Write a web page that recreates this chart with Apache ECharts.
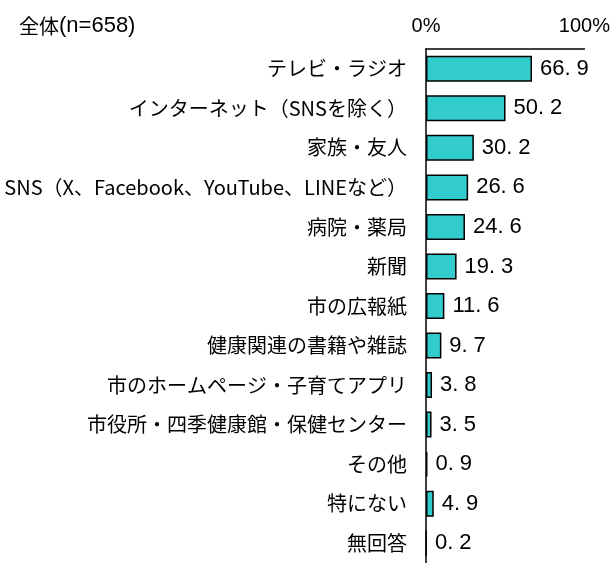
<!DOCTYPE html>
<html>
<head>
<meta charset="utf-8">
<script src="https://cdn.jsdelivr.net/npm/echarts@6/dist/echarts.min.js"></script>
<style>
  html, body { margin: 0; padding: 0; background: #fff; }
  #chart { width: 613px; height: 563px; }
</style>
</head>
<body>
<div id="chart"></div>
<script>
// Information sources (respondents overall, n=658), percentage
const categories = [
  'テレビ・ラジオ',
  'インターネット（SNSを除く）',
  '家族・友人',
  'SNS（X、Facebook、YouTube、LINEなど）',
  '病院・薬局',
  '新聞',
  '市の広報紙',
  '健康関連の書籍や雑誌',
  '市のホームページ・子育てアプリ',
  '市役所・四季健康館・保健センター',
  'その他',
  '特にない',
  '無回答'
];
const values = [66.9, 50.2, 30.2, 26.6, 24.6, 19.3, 11.6, 9.7, 3.8, 3.5, 0.9, 4.9, 0.2];
const axisTicks = [0, 100];
const titleMain = '全体';
const titleSub = '(n=658)';

const FONT = '"Noto Sans CJK JP", "Noto Sans", sans-serif';
const NARROW = '"Liberation Sans Narrow", "Liberation Sans", sans-serif';
const chart = echarts.init(document.getElementById('chart'), null, { renderer: 'canvas' });

// value label: integer part, decimal point in its own fixed-width cell, decimal digit
function valueLabel(p) {
  const parts = p.value.toFixed(1).split('.');
  return '{d|' + parts[0] + '}{p|.}{d|' + parts[1] + '}';
}

chart.setOption({
  animation: false,
  backgroundColor: '#ffffff',
  title: {
    text: '{a|' + titleMain + '}{b|' + titleSub + '}',
    left: 14,
    top: 10,
    textStyle: {
      fontWeight: 'normal',
      rich: {
        a: { fontFamily: FONT, fontSize: 20, fontWeight: 'normal', color: '#000' },
        b: { fontFamily: NARROW, fontSize: 22, fontWeight: 'normal', color: '#000' }
      }
    }
  },
  grid: { left: 426, top: 49, width: 162, height: 520, containLabel: false },
  xAxis: {
    type: 'value',
    position: 'top',
    min: axisTicks[0],
    max: axisTicks[1],
    interval: axisTicks[1] - axisTicks[0],
    axisLine: { show: true, lineStyle: { color: '#000', width: 1.5 } },
    axisTick: { show: false },
    splitLine: { show: false },
    axisLabel: {
      margin: 13,
      formatter: v => v + '%',
      fontFamily: NARROW,
      fontSize: 20,
      color: '#000'
    }
  },
  yAxis: {
    type: 'category',
    inverse: true,
    data: categories,
    axisLine: { show: true, lineStyle: { color: '#000', width: 1.5 } },
    axisTick: { show: false },
    axisLabel: {
      margin: 19,
      fontFamily: FONT,
      fontSize: 20,
      color: '#000'
    }
  },
  series: [{
    type: 'bar',
    data: values,
    barWidth: 26,
    itemStyle: { color: '#33CCCC', borderColor: '#000', borderWidth: 1.5 },
    label: {
      show: true,
      position: 'right',
      distance: 8,
      formatter: valueLabel,
      rich: {
        d: { fontFamily: NARROW, fontSize: 22, color: '#000' },
        p: { fontFamily: NARROW, fontSize: 22, color: '#000', width: 12, align: 'left' }
      }
    }
  }]
});
</script>
</body>
</html>
